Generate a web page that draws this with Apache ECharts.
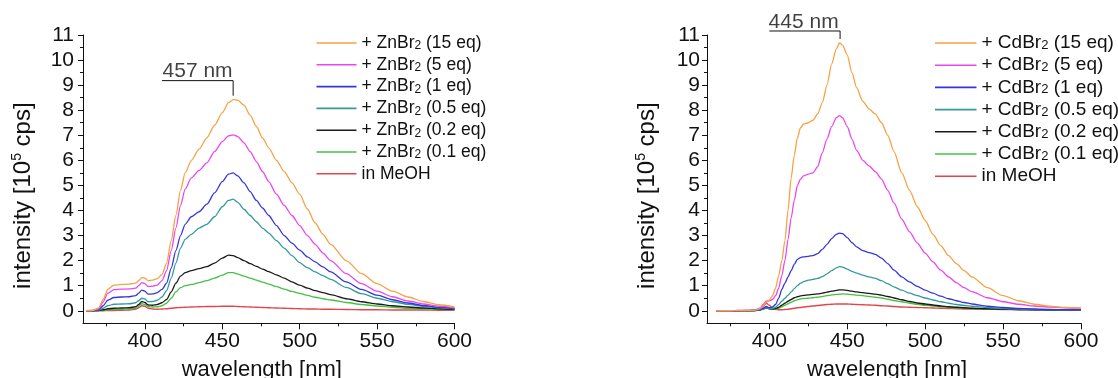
<!DOCTYPE html>
<html>
<head>
<meta charset="utf-8">
<script src="https://cdn.jsdelivr.net/npm/echarts@6/dist/echarts.min.js"></script>
<style>
html,body{margin:0;padding:0;background:#fff;}
#c{width:1118px;height:378px;}
</style>
</head>
<body>
<div id="c"></div>
<script>
// ---------- data ----------
const wlZn = [362,366,370,373,376,380,385,390,394,396, 398,400,402,405,408,411,414,417,420,423, 426,430,435,440,445,450,454,457,460,464, 468,472,476,480,485,490,495,500,505,510, 515,520,530,540,550,560,570,580,590,600];
const zn15  = [0,0.01,0.1,0.45,0.85,1.02,1.05,1.06,1.1,1.2, 1.32,1.3,1.2,1.22,1.28,1.45,1.9,2.8,3.8,4.8, 5.5,6.0,6.45,6.9,7.4,7.9,8.3,8.42,8.4,8.2, 7.8,7.35,6.9,6.5,6.0,5.55,5.1,4.65,4.05,3.5, 3.05,2.65,2.0,1.48,1.08,0.78,0.55,0.37,0.24,0.15];
const zn5   = [0,0.01,0.08,0.35,0.7,0.84,0.86,0.87,0.9,1.0, 1.12,1.08,0.97,0.98,1.02,1.2,1.6,2.4,3.3,4.2, 4.85,5.3,5.6,5.9,6.35,6.75,6.98,7.02,6.95,6.7, 6.35,5.95,5.55,5.15,4.65,4.2,3.8,3.4,3.0,2.65, 2.3,2.0,1.48,1.08,0.78,0.56,0.39,0.27,0.18,0.12];
const zn1   = [0,0,0.04,0.2,0.42,0.53,0.55,0.56,0.6,0.7, 0.82,0.78,0.66,0.67,0.72,0.85,1.1,1.7,2.4,3.0, 3.45,3.75,3.95,4.25,4.7,5.15,5.45,5.5,5.38,5.1, 4.75,4.4,4.1,3.8,3.4,3.0,2.7,2.42,2.15,1.95, 1.75,1.55,1.15,0.85,0.62,0.44,0.31,0.21,0.14,0.09];
const zn05  = [0,0,0.02,0.1,0.2,0.26,0.27,0.28,0.32,0.4, 0.5,0.47,0.36,0.37,0.42,0.55,0.8,1.3,1.9,2.5, 2.85,3.05,3.3,3.45,3.75,4.15,4.4,4.45,4.32,4.05, 3.8,3.55,3.3,3.1,2.8,2.5,2.2,1.92,1.72,1.55, 1.4,1.25,0.93,0.68,0.5,0.36,0.26,0.18,0.12,0.08];
const zn02  = [0,0,0.01,0.04,0.08,0.1,0.11,0.12,0.16,0.25, 0.37,0.33,0.23,0.22,0.25,0.32,0.45,0.75,1.1,1.38, 1.52,1.6,1.68,1.76,1.9,2.1,2.22,2.2,2.12,2.0, 1.88,1.77,1.66,1.56,1.43,1.3,1.15,1.02,0.9,0.8, 0.72,0.64,0.48,0.36,0.27,0.2,0.15,0.11,0.08,0.06];
const zn01  = [0,0,0.01,0.02,0.04,0.05,0.06,0.07,0.1,0.18, 0.28,0.25,0.16,0.15,0.16,0.2,0.3,0.5,0.75,0.92, 1.0,1.05,1.12,1.2,1.3,1.42,1.52,1.52,1.46,1.38, 1.3,1.22,1.14,1.06,0.96,0.86,0.77,0.69,0.61,0.54, 0.48,0.43,0.33,0.25,0.19,0.14,0.1,0.08,0.06,0.05];
const znMeOH= [0,0,0,0,0.01,0.01,0.02,0.03,0.06,0.12, 0.2,0.18,0.1,0.07,0.06,0.07,0.08,0.1,0.12,0.13, 0.14,0.15,0.16,0.17,0.17,0.18,0.18,0.18,0.17,0.16, 0.15,0.14,0.13,0.12,0.11,0.1,0.09,0.08,0.07,0.07, 0.06,0.06,0.05,0.04,0.04,0.03,0.03,0.03,0.02,0.02];

const wlCd = [366,370,375,380,385,390, 394,396,398,400,402,404,406,408,410,412,414,416,418,420,422, 425,428,431,434,437,440,443,445,447,450,453,456, 460,464,468,472,476,480,485,490,495,500,505,510,515,520,525,530, 540,550,560,570,580,590,600];
const cd15  = [0,0,0,0.01,0.01,0.02, 0.08,0.2,0.33,0.42,0.6,0.9,1.4,2.0,2.8,4.0,5.3,6.2,6.9,7.3,7.45, 7.5,7.6,7.85,8.3,9.0,9.85,10.45,10.68,10.6,10.2,9.5,8.9, 8.35,8.05,7.85,7.5,7.0,6.35,5.5,4.8,4.15,3.6,3.05,2.6,2.2,1.88,1.6,1.35, 0.92,0.6,0.4,0.26,0.18,0.13,0.1];
const cd5   = [0,0,0,0.01,0.01,0.02, 0.1,0.25,0.38,0.4,0.45,0.6,0.9,1.4,2.0,2.85,3.7,4.4,5.0,5.25,5.38, 5.45,5.5,5.75,6.3,6.85,7.35,7.7,7.78,7.7,7.35,6.85,6.4, 6.0,5.78,5.55,5.25,4.8,4.3,3.65,3.15,2.7,2.3,1.95,1.62,1.35,1.12,0.92,0.76, 0.52,0.36,0.26,0.19,0.15,0.12,0.1];
const cd1   = [0,0,0,0,0.01,0.01, 0.04,0.1,0.17,0.12,0.15,0.25,0.5,0.85,1.1,1.35,1.6,1.85,2.05,2.12,2.15, 2.17,2.2,2.28,2.45,2.65,2.88,3.05,3.1,3.08,2.92,2.72,2.55, 2.4,2.32,2.25,2.1,1.88,1.62,1.35,1.15,0.97,0.82,0.7,0.58,0.48,0.4,0.33,0.27, 0.18,0.13,0.09,0.07,0.05,0.04,0.04];
const cd05  = [0,0,0,0,0,0.01, 0.03,0.07,0.12,0.08,0.09,0.14,0.25,0.38,0.5,0.62,0.75,0.88,1.0,1.1,1.16, 1.22,1.25,1.29,1.36,1.47,1.6,1.71,1.76,1.74,1.66,1.57,1.5, 1.42,1.35,1.29,1.2,1.08,0.95,0.82,0.7,0.6,0.51,0.43,0.36,0.3,0.25,0.21,0.18, 0.13,0.09,0.07,0.05,0.04,0.03,0.03];
const cd02  = [0,0,0,0,0,0.01, 0.03,0.07,0.12,0.08,0.07,0.09,0.14,0.22,0.3,0.38,0.45,0.52,0.56,0.59,0.61, 0.63,0.65,0.67,0.7,0.74,0.78,0.81,0.83,0.83,0.81,0.78,0.75, 0.72,0.69,0.66,0.62,0.57,0.51,0.44,0.37,0.31,0.27,0.23,0.19,0.16,0.14,0.12,0.1, 0.08,0.06,0.05,0.04,0.03,0.03,0.03];
const cd01  = [0,0,0,0,0,0.01, 0.03,0.07,0.12,0.08,0.06,0.07,0.1,0.16,0.22,0.28,0.34,0.4,0.44,0.47,0.49, 0.5,0.52,0.54,0.57,0.6,0.63,0.65,0.66,0.67,0.66,0.64,0.62, 0.6,0.57,0.54,0.51,0.46,0.41,0.36,0.3,0.26,0.22,0.19,0.16,0.13,0.11,0.1,0.09, 0.07,0.06,0.05,0.04,0.03,0.03,0.03];
const cdMeOH= [0,0,0,0,0,0.01, 0.06,0.18,0.3,0.22,0.1,0.05,0.04,0.04,0.05,0.06,0.08,0.1,0.12,0.13,0.15, 0.17,0.19,0.21,0.23,0.25,0.26,0.27,0.27,0.27,0.27,0.26,0.25, 0.24,0.23,0.22,0.2,0.19,0.17,0.15,0.14,0.13,0.12,0.11,0.1,0.09,0.08,0.07,0.07, 0.06,0.05,0.04,0.04,0.03,0.03,0.03];

const znNames = ['+ ZnBr2 (15 eq)','+ ZnBr2 (5 eq)','+ ZnBr2 (1 eq)','+ ZnBr2 (0.5 eq)','+ ZnBr2 (0.2 eq)','+ ZnBr2 (0.1 eq)','in MeOH'];
const cdNames = ['+ CdBr2 (15 eq)','+ CdBr2 (5 eq)','+ CdBr2 (1 eq)','+ CdBr2 (0.5 eq)','+ CdBr2 (0.2 eq)','+ CdBr2 (0.1 eq)','in MeOH'];
const seriesColors = ['#F5A243','#EE44EE','#3535DD','#349A9A','#1A1A1A','#44C044','#E5454A'];

const xLabelTicks = [400,450,500,550,600];
const xMinorTicks = [375,425,475,525,575];
const yLabelTicks = [0,1,2,3,4,5,6,7,8,9,10,11];
const yMinorTicks = [0.5,1.5,2.5,3.5,4.5,5.5,6.5,7.5,8.5,9.5,10.5];

const znPeakText = '457 nm';
const znBracket = [[411, 9.18],[457, 9.18],[457, 8.58]];
const znTextAt = [434, 9.55];
const cdPeakText = '445 nm';
const cdBracket = [[400, 11.16],[445.4, 11.16],[445.4, 10.84]];
const cdTextAt = [422, 11.5];

// ---------- chart ----------
const FONT = 'Liberation Sans, Arial, sans-serif';
const INK = '#111';
const chart = echarts.init(document.getElementById('c'), null, {renderer:'canvas'});

const grids = [
  {left:83, top:35, width:371.5, height:288.3, outerBoundsMode:'none'},
  {left:707, top:35, width:374, height:288.3, outerBoundsMode:'none'}
];

function xAxes(gi){
  return [
    {type:'value', gridIndex:gi, min:360, max:600,
     axisLine:{show:true, onZero:false, lineStyle:{color:INK, width:1}},
     axisTick:{show:true, customValues:xLabelTicks, length:6, lineStyle:{color:INK, width:1}},
     axisLabel:{customValues:xLabelTicks, fontSize:21, color:INK, fontFamily:FONT, margin:7},
     splitLine:{show:false},
     name:'wavelength [nm]', nameLocation:'middle', nameGap:36,
     nameTextStyle:{fontSize:22, color:INK, fontFamily:FONT, padding:[0,14,0,0]}},
    {type:'value', gridIndex:gi, min:360, max:600, position:'bottom', offset:0,
     axisLine:{show:false, onZero:false},
     axisTick:{show:true, customValues:xMinorTicks, length:3, lineStyle:{color:INK, width:1}},
     axisLabel:{show:false}, splitLine:{show:false}}
  ];
}
function yAxes(gi, margin){
  return [
    {type:'value', gridIndex:gi, min:-0.5, max:11,
     axisLine:{show:true, onZero:false, lineStyle:{color:INK, width:1}},
     axisTick:{show:true, customValues:yLabelTicks, length:5, lineStyle:{color:INK, width:1}},
     axisLabel:{customValues:yLabelTicks, fontSize:21, color:INK, fontFamily:FONT, margin:margin},
     splitLine:{show:false},
     name:'{t|intensity [10}{sup|5}{t| cps]}', nameLocation:'middle', nameGap:47, nameRotate:90,
     nameTextStyle:{color:INK, fontFamily:FONT, padding:[0,33,0,0], rich:{
       t:{fontSize:24, color:INK, fontFamily:FONT, lineHeight:26},
       sup:{fontSize:14, color:INK, fontFamily:FONT, verticalAlign:'top', lineHeight:26}
     }}},
    {type:'value', gridIndex:gi, min:-0.5, max:11, position:'left', offset:0,
     axisLine:{show:false, onZero:false},
     axisTick:{show:true, customValues:yMinorTicks, length:3, lineStyle:{color:INK, width:1}},
     axisLabel:{show:false}, splitLine:{show:false}}
  ];
}

function zip(xs, ys){ return xs.map((x,i)=>[x, ys[i]]); }

function spectra(gi, wl, sets, names){
  const out = [];
  for (let i = sets.length-1; i >= 0; i--){
    out.push({type:'line', name:names[i], xAxisIndex:gi*2, yAxisIndex:gi*2,
      data:zip(wl, sets[i]), showSymbol:false, symbol:'none',
      smooth:0.25, smoothMonotone:'x', color:seriesColors[i],
      lineStyle:{width:1.3, color:seriesColors[i]}, silent:true, z:3});
  }
  return out;
}
function annotation(gi, bracket, textAt, text){
  return [
    {type:'line', name:'_bracket'+gi, xAxisIndex:gi*2, yAxisIndex:gi*2, data:bracket,
     symbol:'none', clip:false, silent:true, lineStyle:{color:INK, width:1}, z:4},
    {type:'scatter', name:'_label'+gi, xAxisIndex:gi*2, yAxisIndex:gi*2, data:[textAt],
     symbolSize:0, clip:false, silent:true,
     label:{show:true, position:'inside', formatter:text, fontSize:21, color:INK, fontFamily:FONT}, z:4}
  ];
}

function legendFmt(name){
  const m = name.match(/^(\+ \w+Br)2(.*)$/);
  if (m) return '{t|' + m[1] + '}{s|2}{t|' + m[2] + '}';
  return '{t|' + name + '}';
}
function legend(left, names, fs, iw, gap){
  return {orient:'vertical', left:left, top:33, padding:0, itemWidth:iw, itemHeight:1.6, itemGap:gap,
    icon:'rect', selectedMode:false, data:names, formatter:legendFmt,
    textStyle:{color:INK, fontFamily:FONT, fontSize:fs, lineHeight:20, rich:{
      t:{fontSize:fs, color:INK, fontFamily:FONT, lineHeight:20},
      s:{fontSize:Math.round(fs*0.68), color:INK, fontFamily:FONT, lineHeight:20, verticalAlign:'bottom', padding:[0,0,1,0]}
    }}};
}

const option = {
  animation:false,
  backgroundColor:'#fff',
  grid:grids,
  xAxis:[...xAxes(0), ...xAxes(1)],
  yAxis:[...yAxes(0, 9), ...yAxes(1, 7)],
  legend:[legend(316.5, znNames, 17.5, 40, 1.8), legend(935, cdNames, 19, 41.5, 2.2)],
  series:[
    ...spectra(0, wlZn, [zn15, zn5, zn1, zn05, zn02, zn01, znMeOH], znNames),
    ...spectra(1, wlCd, [cd15, cd5, cd1, cd05, cd02, cd01, cdMeOH], cdNames),
    ...annotation(0, znBracket, znTextAt, znPeakText),
    ...annotation(1, cdBracket, cdTextAt, cdPeakText)
  ]
};
chart.setOption(option);
</script>
</body>
</html>
